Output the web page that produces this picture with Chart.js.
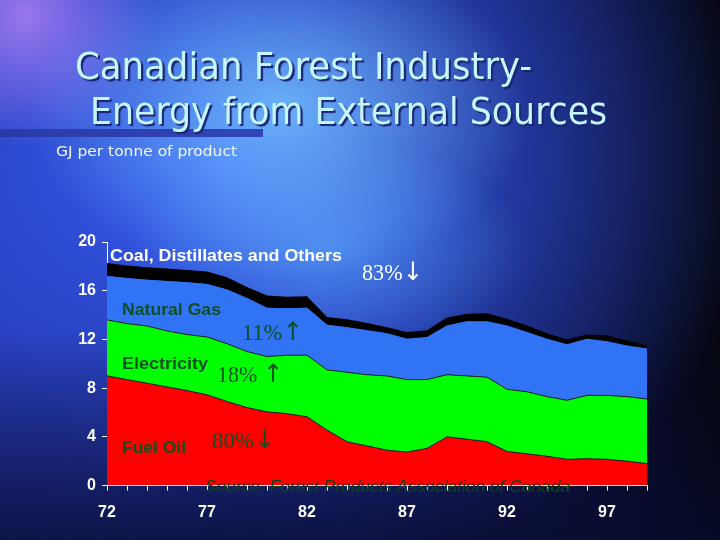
<!DOCTYPE html>
<html>
<head>
<meta charset="utf-8">
<script src="https://cdn.jsdelivr.net/npm/chart.js@4/dist/chart.umd.min.js"></script>
<style>
  html, body { margin: 0; padding: 0; }
  body {
    width: 720px; height: 540px; overflow: hidden; position: relative;
    background:
      linear-gradient(to bottom, rgba(5,8,30,0) 62%, rgba(8,12,45,0.75) 100%),
      radial-gradient(circle at 25px 15px, rgba(200,140,255,0.7) 0, rgba(200,140,255,0) 130px),
      radial-gradient(ellipse 250px 170px at 280px 110px, rgba(130,215,255,0.7), rgba(130,215,255,0) 100%),
      radial-gradient(ellipse 200px 110px at 330px 250px, rgba(90,170,255,0.6), rgba(90,170,255,0) 100%),
      radial-gradient(ellipse 540px 430px at 230px 160px, rgba(55,95,245,1), rgba(55,95,245,0) 100%),
      linear-gradient(to right, #1f2c9c 0%, #19217e 45%, #0d1145 78%, #05060f 100%);
  }
  #chart { position: absolute; left: 0; top: 0; }
  .txt { position: absolute; white-space: nowrap; line-height: 1; transform-origin: 0 0; z-index: 2; }
  .title { font-family: 'DejaVu Sans Condensed', 'DejaVu Sans', sans-serif; font-stretch: condensed;
           color: #c6f6ff; text-shadow: 2px 2px 1px #1a2470; }
  .sans { font-family: 'Liberation Sans', Arial, sans-serif; font-weight: bold; }
  .serif { font-family: 'Liberation Serif', 'DejaVu Serif', serif; }
  .arrow { font-family: 'DejaVu Sans', sans-serif; font-size: 1.1em; }
  .green { color: #0f5020; }
  #bar { position: absolute; left: 0; top: 129px; width: 263px; height: 8px;
         background: linear-gradient(to right, #2a3aa8, #3346b8); z-index: 1; }
</style>
</head>
<body>
<div id="bar"></div>
<div class="txt title" data-x="75" data-b="79" data-s="38" data-w="457">Canadian Forest Industry-</div>
<div class="txt title" data-x="90" data-b="124" data-s="38" data-w="517">Energy from External Sources</div>
<div class="txt" style="font-family:'DejaVu Sans',sans-serif;color:#f2f6ff;" data-x="56" data-b="156" data-s="14" data-w="181">GJ per tonne of product</div>

<div class="txt sans" style="color:#ffffff;" data-x="110" data-b="261" data-s="17" data-w="232">Coal, Distillates and Others</div>
<div class="txt sans green" data-x="122" data-b="315" data-s="17" data-w="99">Natural Gas</div>
<div class="txt sans green" data-x="122" data-b="369" data-s="17" data-w="86">Electricity</div>
<div class="txt sans green" data-x="122" data-b="453" data-s="17" data-w="64">Fuel Oil</div>

<div class="txt serif" style="color:#ffffff;" data-x="362" data-b="278" data-s="23" data-w="61">83%<span class="arrow">↓</span></div>
<div class="txt serif green" data-x="242" data-b="338" data-s="23" data-w="61">11%<span class="arrow">↑</span></div>
<div class="txt serif green" data-x="217" data-b="380" data-s="23" data-w="66">18% <span class="arrow">↑</span></div>
<div class="txt serif green" data-x="212" data-b="446" data-s="23" data-w="63">80%<span class="arrow">↓</span></div>

<div class="txt" style="font-family:'Liberation Sans',Arial,sans-serif;font-style:italic;color:#0c4418;" data-x="205" data-b="493" data-s="16" data-w="365">Source: Forest Products Association of Canada</div>

<canvas id="chart" width="720" height="540"></canvas>

<script>
// years 1972 - 1999
const years = ['72','73','74','75','76','77','78','79','80','81','82','83','84','85',
               '86','87','88','89','90','91','92','93','94','95','96','97','98','99'];
const xTickLabels = ['72', '77', '82', '87', '92', '97'];
const yTickValues = [0, 4, 8, 12, 16, 20];

// GJ per tonne of product, by source (stacked)
const fuelOil     = [9.0, 8.7, 8.4, 8.1, 7.8, 7.45, 6.9, 6.4, 6.05, 5.9, 5.65, 4.55, 3.6, 3.25,
                     2.9, 2.75, 3.05, 4.0, 3.8, 3.6, 2.8, 2.6, 2.4, 2.15, 2.2, 2.15, 2.0, 1.8];
const electricity = [4.6, 4.6, 4.7, 4.6, 4.6, 4.75, 4.75, 4.6, 4.55, 4.8, 5.05, 4.95, 5.7, 5.85,
                     6.1, 5.95, 5.65, 5.1, 5.2, 5.3, 5.1, 5.1, 4.9, 4.85, 5.2, 5.25, 5.3, 5.3];
const naturalGas  = [3.6, 3.75, 3.8, 4.1, 4.3, 4.35, 4.45, 4.4, 4.0, 3.85, 3.9, 3.7, 3.7, 3.65,
                     3.5, 3.35, 3.5, 4.05, 4.5, 4.6, 5.25, 4.9, 4.75, 4.6, 4.65, 4.45, 4.2, 4.15];
const coalOthers  = [1.07, 1.02, 1.03, 1.03, 1.0, 1.03, 1.0, 0.9, 1.0, 0.95, 0.95, 0.65, 0.65, 0.6,
                     0.5, 0.55, 0.55, 0.65, 0.6, 0.65, 0.55, 0.55, 0.45, 0.4, 0.35, 0.5, 0.4, 0.25];

// place the overlay texts by baseline and stretch them to the measured widths
document.querySelectorAll('.txt').forEach(function(el) {
    const s = +el.dataset.s;
    el.style.fontSize = s + 'px';
    el.style.left = el.dataset.x + 'px';
    el.style.top = (+el.dataset.b - 0.845 * s) + 'px';
    const w = el.getBoundingClientRect().width;
    if (el.dataset.w && w > 0) {
        el.style.transform = 'scaleX(' + (+el.dataset.w / w).toFixed(3) + ')';
    }
});

function area(label, data, color, border) {
    return {
        label: label,
        data: data,
        backgroundColor: color,
        borderColor: border || color,
        borderWidth: border ? 1 : 0,
        fill: label === 'Fuel Oil' ? 'origin' : '-1',
        pointRadius: 0,
        tension: 0
    };
}

const tickFont = { family: "'Liberation Sans', Arial, sans-serif", size: 16, weight: 'bold' };

new Chart(document.getElementById('chart'), {
    type: 'line',
    data: {
        labels: years,
        datasets: [
            area('Fuel Oil', fuelOil, '#ff0000', '#202020'),
            area('Electricity', electricity, '#00ff00', '#202020'),
            area('Natural Gas', naturalGas, '#3073f5'),
            area('Coal, Distillates and Others', coalOthers, '#000000')
        ]
    },
    options: {
        responsive: false,
        animation: false,
        layout: { padding: { top: 242, right: 73, left: 0, bottom: 0 } },
        plugins: { legend: { display: false }, tooltip: { enabled: false } },
        scales: {
            x: {
                offset: false,
                afterFit: function(scale) { scale.height = 54.5; },
                grid: { drawOnChartArea: false, color: '#ffffff', tickLength: 5 },
                border: { color: '#ffffff', width: 1 },
                ticks: {
                    autoSkip: false, maxRotation: 0, color: '#ffffff', font: tickFont, padding: 12,
                    callback: function(value, index) {
                        return xTickLabels.includes(years[index]) ? years[index] : '';
                    }
                }
            },
            y: {
                stacked: true,
                min: 0, max: 20,
                afterFit: function(scale) { scale.width = 107; },
                afterBuildTicks: function(scale) {
                    scale.ticks = yTickValues.map(function(v) { return { value: v }; });
                },
                grid: { drawOnChartArea: false, color: '#ffffff', tickLength: 5 },
                border: { color: '#ffffff', width: 1 },
                ticks: { color: '#ffffff', font: tickFont, padding: 6 }
            }
        }
    }
});
</script>
</body>
</html>
